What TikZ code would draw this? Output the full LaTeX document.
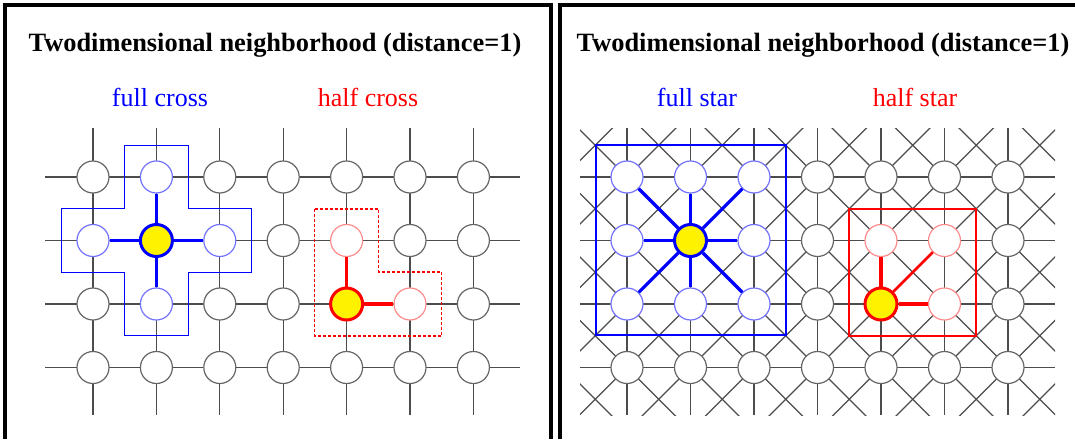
\documentclass[tikz,border=0pt]{standalone}
\usepackage{fontspec}
\setmainfont{Liberation Serif}
\definecolor{nbhblue}{RGB}{0,0,255}
\tikzset{
  gridnode/.style={circle, draw=black!60, fill=white, line width=0.6pt, minimum size=16pt, inner sep=0pt},
  nbblue/.style={gridnode, draw=blue!55},
  nbred/.style={gridnode, draw=red!45},
  ctrblue/.style={gridnode, fill=yellow, draw=blue, line width=1.5pt},
  ctrred/.style={gridnode, fill=yellow, draw=red, line width=1.5pt},
  gridline/.style={black!70, line width=0.6pt},
  bluelink/.style={blue, line width=1.6pt},
  redlink/.style={red, line width=1.3pt},
  outline/.style={line width=0.65pt},
  panel/.style={black, line width=1.8pt},
  titletext/.style={font=\fontsize{13.2}{15}\selectfont\bfseries, inner sep=0pt},
  subtext/.style={font=\fontsize{13}{15}\selectfont, inner sep=0pt}
}

\begin{document}
\begin{tikzpicture}[x=0.5pt, y=-0.5pt,
    La11/.style={ctrblue}, La10/.style={nbblue}, La01/.style={nbblue},
    La21/.style={nbblue}, La12/.style={nbblue},
    La42/.style={ctrred}, La41/.style={nbred}, La52/.style={nbred},
    Lb11/.style={ctrblue}, Lb00/.style={nbblue}, Lb10/.style={nbblue},
    Lb20/.style={nbblue}, Lb01/.style={nbblue}, Lb21/.style={nbblue},
    Lb02/.style={nbblue}, Lb12/.style={nbblue}, Lb22/.style={nbblue},
    Lb42/.style={ctrred}, Lb41/.style={nbred}, Lb51/.style={nbred}, Lb52/.style={nbred}]
    \useasboundingbox (0,0) rectangle (1075,439);

    \draw[panel] (5,439) -- (5,5) -- (551,5) -- (551,439);
    \draw[panel] (560,439) -- (560,5) -- (1075,5);

    \node[titletext, anchor=base] (t-left) at (275,51) {Twodimensional neighborhood (distance=1)};
    \node[titletext, anchor=base] (t-right) at (823,51) {Twodimensional neighborhood (distance=1)};
    \node[subtext, blue, anchor=base] (s-fullcross) at (160,106) {full cross};
    \node[subtext, red, anchor=base] (s-halfcross) at (368,106) {half cross};
    \node[subtext, blue, anchor=base] (s-fullstar) at (697,106) {full star};
    \node[subtext, red, anchor=base] (s-halfstar) at (915,106) {half star};

    % lattice lines
    \foreach \j in {0,...,3}
        \draw[gridline] (45,{177+\j*63.5}) -- (520,{177+\j*63.5});
    \foreach \i in {0,...,6}
        \draw[gridline] ({93+\i*63.4},128) -- ({93+\i*63.4},415);
    \begin{scope}
        \clip (580,128) rectangle (1055,415);
        \foreach \j in {0,...,3}
            \draw[gridline] (580,{177+\j*63.5}) -- (1055,{177+\j*63.5});
        \foreach \i in {0,...,7}
            \draw[gridline] ({627+\i*63.5},128) -- ({627+\i*63.5},415);
        \foreach \k in {-6,...,12} {
            \draw[gridline] ({627+\k*63.5-300},-123) -- ({627+\k*63.5+300},477);
            \draw[gridline] ({627+\k*63.5+300},-123) -- ({627+\k*63.5-300},477);
        }
    \end{scope}

    % cells
    \foreach \i in {0,...,6}
        \foreach \j in {0,...,3} {
            \node[gridnode, La\i\j/.try] (a-\i-\j) at ({93+\i*63.4},{177+\j*63.5}) {};
            \node[gridnode, Lb\i\j/.try] (b-\i-\j) at ({627+\i*63.5},{177+\j*63.5}) {};
        }

    % neighborhoods
    \foreach \n in {1-0,0-1,2-1,1-2}
        \draw[bluelink] (a-1-1) -- (a-\n);
    \draw[redlink] (a-4-2) -- (a-4-1);
    \draw[redlink, line width=2pt] (a-4-2) -- (a-5-2);
    \foreach \n in {0-0,1-0,2-0,0-1,2-1,0-2,1-2,2-2}
        \draw[bluelink] (b-1-1) -- (b-\n);
    \draw[redlink, line width=1.6pt] (b-4-2) -- (b-4-1);
    \draw[redlink] (b-4-2) -- (b-5-1);
    \draw[redlink, line width=2pt] (b-4-2) -- (b-5-2);

    \draw[outline, nbhblue, shift={(a-1-1)}] (-32,-95) -- (32,-95) -- (32,-32) -- (95,-32)
        -- (95,32) -- (32,32) -- (32,95) -- (-32,95) -- (-32,32) -- (-95,32) -- (-95,-32) -- (-32,-32) -- cycle;
    \draw[outline, red, dash pattern=on 1.5pt off 1pt, shift={(a-4-2)}] (-32,-95) -- (32,-95)
        -- (32,-32) -- (95,-32) -- (95,32) -- (-32,32) -- cycle;
    \draw[outline, nbhblue] (596,145) -- (786,145) -- (786,335) -- (596,335) -- cycle;
    \draw[outline, red, shift={(b-4-2)}] (-32,-95) -- (95,-95) -- (95,32) -- (-32,32) -- cycle;
\end{tikzpicture}
\end{document}
